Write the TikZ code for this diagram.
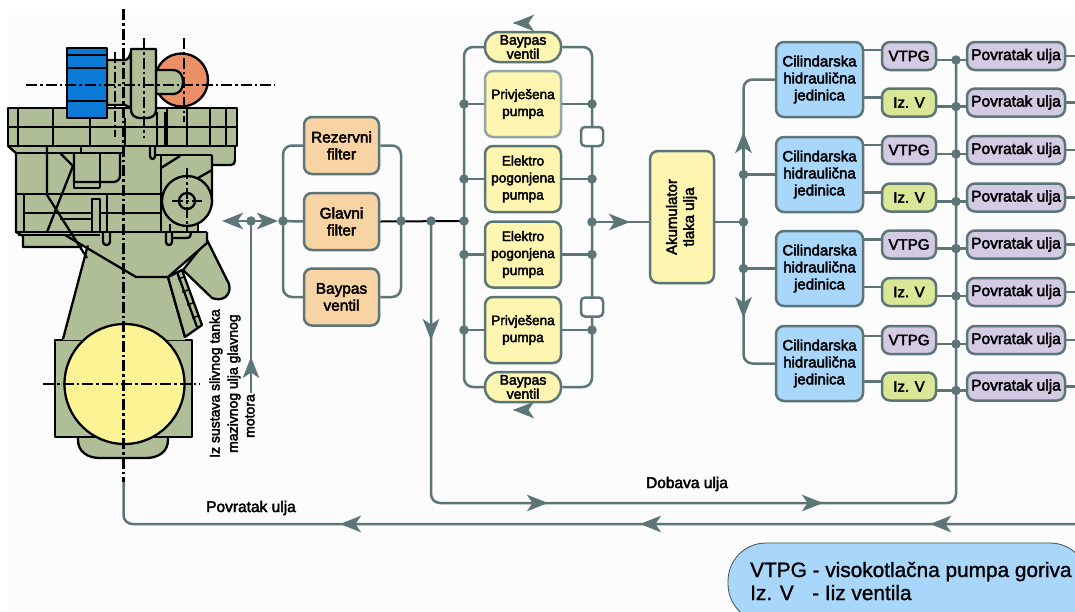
\documentclass[tikz,border=0pt]{standalone}
\usepackage{fontspec}
\setmainfont{Liberation Sans}
\newfontfamily\boldish[FakeBold=2.8]{Liberation Sans}
\newfontfamily\semibold[FakeBold=1.2]{Liberation Sans}
\usetikzlibrary{arrows.meta}
\definecolor{pipec}{HTML}{5C7678}
\definecolor{pipelight}{HTML}{93A8A4}
\definecolor{filterc}{HTML}{F8D3A3}
\definecolor{pumpc}{HTML}{FDF5B0}
\definecolor{crankc}{HTML}{FCF395}
\definecolor{cilc}{HTML}{A9D6FB}
\definecolor{purplec}{HTML}{D3CAE4}
\definecolor{greenc}{HTML}{D9E797}
\definecolor{enginec}{HTML}{AFBE96}
\definecolor{orangec}{HTML}{EB8F66}
\definecolor{bluec}{HTML}{0A7AD6}
\tikzset{
  basebox/.style={draw=pipec,line width=2.5pt,rounded corners=8pt,inner sep=0pt,align=center,
    font=\boldish\fontsize{15}{17}\selectfont,text=black},
  filterbox/.style={basebox,fill=filterc,minimum width=75pt,minimum height=57pt,font=\boldish\fontsize{15.4}{17}\selectfont},
  pumpbox/.style={basebox,fill=pumpc,minimum width=76pt,minimum height=66pt,font=\boldish\fontsize{13.6}{17}\selectfont},
  pillbox/.style={basebox,fill=pumpc,minimum width=76pt,minimum height=30pt,rounded corners=14pt,
    font=\boldish\fontsize{14}{11.5}\selectfont},
  accubox/.style={basebox,fill=pumpc,minimum width=64pt,minimum height=132pt},
  cilbox/.style={basebox,fill=cilc,minimum width=87pt,minimum height=75pt},
  vtpgbox/.style={basebox,fill=purplec,minimum width=54pt,minimum height=28pt},
  izvbox/.style={basebox,fill=greenc,minimum width=54pt,minimum height=28pt},
  povbox/.style={basebox,fill=purplec,minimum width=98pt,minimum height=28pt,font=\boldish\fontsize{15.5}{17}\selectfont},
  valvebox/.style={draw=pipec,line width=2.5pt,fill=white,rounded corners=4pt,minimum width=22pt,minimum height=19pt,inner sep=0pt},
  dotnode/.style={circle,fill=pipec,minimum size=9.5pt,inner sep=0pt},
  pipe/.style={draw=pipec,line width=2.5pt},
  pipebend/.style={pipe,rounded corners=9pt},
  flowline/.style={pipe,-{Stealth[length=21pt,width=16.5pt,inset=5.5pt]}},
  plainlabel/.style={font=\boldish\fontsize{15.5}{17}\selectfont,inner sep=0pt,align=center},
  sidelabel/.style={font=\boldish\fontsize{14}{16}\selectfont,inner sep=0pt,rotate=90,anchor=west},
  legendtext/.style={anchor=base west,inner sep=0pt,font=\semibold\fontsize{20.8}{24}\selectfont},
  eng/.style={draw=black,line width=2.3pt,line join=round},
  engf/.style={eng,fill=enginec},
  centreline/.style={draw=black,line width=2.3pt,dash pattern=on 11pt off 3pt on 2.5pt off 3pt},
}
\begin{document}
\begin{tikzpicture}[x=1pt,y=-1pt]
\useasboundingbox (0,0) rectangle (1075,611);
\fill[white] (0,0) rectangle (1075,611);
\fill[black!1] (8,9) rectangle (1075,611);

% ---- engine (a drawing, not a graph) ----
% lower parts
\path[engf] (78,420) -- (78,440) .. controls (78,452) and (88,458) .. (100,458) -- (146,458) .. controls (158,458) and (168,452) .. (168,440) -- (168,420) -- cycle;
\path[engf] (55,340) rectangle (192,437);
\path[engf] (101,330) -- (101,322) .. controls (101,318) and (103,316) .. (106,316) -- (144,316) .. controls (147,316) and (149,318) .. (149,322) -- (149,330) -- cycle;
\fill[enginec] (63,340) -- (90,237) -- (168,270) -- (185,340) -- cycle;
\draw[eng] (90,237) -- (63,339) (168,277) -- (185,337);
% right flap
\path[engf] (207,240) -- (229,284) .. controls (232,296) and (222,302) .. (212,298) -- (183,270) -- cycle;
\path[engf] (168,277) -- (182,270) -- (202,325) -- (185,337) -- cycle;
\draw[eng] (177,272) -- (197,327);
\draw[eng,line width=1.5pt] (178,279) -- (184,277) (182,292) -- (188,290) (187,305) -- (193,303) (192,318) -- (198,316);
% middle block
\fill[enginec] (8,146) -- (16,153) -- (16,232) -- (23,236) -- (23,247) -- (82,247) -- (88,245) -- (136,277) -- (168,277) -- (207,243) -- (207,232) -- (198,232) -- (198,226) -- (212,205) -- (212,165) -- (231,165) .. controls (234,165) and (235,163) .. (235,160) -- (235,146) -- cycle;
\draw[eng] (8,146) -- (16,153) -- (16,232) -- (23,236) -- (23,247) -- (82,247);
\draw[eng] (65,235) -- (136,277) -- (168,277) -- (207,243) -- (207,232);
\draw[eng] (16,232) -- (207,232) (18,235) -- (100,235);
\draw[eng] (47,146) -- (47,195) -- (87,258);
\draw[eng] (81,146) -- (81,153) (16,153) -- (124,153);
\draw[eng] (60,153) -- (73,166) -- (47,232);
\draw[eng] (74,153) -- (74,182) (74,182) -- (113,182) .. controls (118,182) and (120,179) .. (120,175) -- (120,153);
\draw[eng] (74,182) -- (74,188) -- (100,188) (100,153) -- (100,188);
\draw[eng] (16,194) -- (161,194) (24,194) -- (24,232);
\draw[eng] (24,213) -- (92,213) (60,219) -- (92,219) (100,213) -- (161,213);
\draw[eng] (92,232) -- (92,199) -- (100,199) -- (100,232) (107,194) -- (107,232);
\draw[eng] (103,233) -- (103,242) .. controls (103,246) and (110,246) .. (110,242) -- (110,233);
\draw[eng] (155,155) -- (212,155) (235,147) -- (235,160) (161,155) -- (161,232);
\draw[eng] (150,147) -- (150,156) .. controls (150,160) and (155,160) .. (155,156) -- (155,147);
\draw[eng] (161,168) -- (180,156) (198,178) -- (212,170) (212,155) -- (212,205);
\draw[eng] (212,165) -- (231,165) .. controls (234,165) and (235,163) .. (235,160);
\draw[eng] (170,224) -- (170,232) (198,224) -- (198,232);
\draw[eng] (166,233) -- (166,242) .. controls (166,246) and (172,246) .. (172,242) -- (172,233);
\draw[eng] (172,238) -- (186,238) .. controls (190,238) and (191,236) .. (191,233);
\path[engf] (187,201) circle[radius=25pt];
\draw[eng] (187,201) circle[radius=8pt];
% top flange row
\path[engf] (8,108) rectangle (237,146);
\draw[eng] (8,127) -- (237,127);
\draw[eng] (18,108) -- (18,146) (53,108) -- (53,146) (90,118) -- (90,146) (125,118) -- (125,146)
  (157,112) -- (157,146) (165,112) -- (165,146) (167,108) -- (167,146) (187,108) -- (187,146) (210,108) -- (210,146) (226,108) -- (226,146);
% turbo group
\path[engf] (107,60) -- (125,60) .. controls (128,60) and (130,56) .. (131,52) -- (131,108) .. controls (128,107) and (126,105) .. (125,105) -- (107,105) -- cycle;
\path[eng,fill=orangec] (181.5,80) circle[radius=26.5pt];
\path[engf] (156,70) -- (172,70) .. controls (180,70) and (183,75) .. (183,82) .. controls (183,89) and (180,94) .. (172,94) -- (156,94) -- cycle;
\path[engf] (131,49) -- (156,49) -- (156,110) .. controls (156,115) and (152,118) .. (147,118) -- (140,118) .. controls (135,118) and (131,115) .. (131,110) -- cycle;
\path[eng,fill=bluec] (67,48) rectangle (107,118);
\draw[eng] (67,55) -- (107,55) (67,68) -- (107,68) (67,101) -- (107,101);
% crank circle
\path[eng,fill=crankc] (124.5,384) circle[radius=60pt];
% axes
\draw[centreline] (123.5,9) -- (123.5,482);
\draw[centreline] (26,85) -- (275,85);
\draw[centreline] (43,384) -- (200,384);
\draw[centreline] (115,52) -- (115,137);
\draw[centreline] (144,38) -- (144,138);
\draw[centreline] (184,38) -- (184,122);
\draw[centreline,line width=1.5pt] (187,168) -- (187,233);
\draw[centreline,line width=1.5pt] (172,201) -- (202,201);

% ---- boxes ----
\node[filterbox] (rf) at (341.5,145.5) {Rezervni\\filter};
\node[filterbox] (gf) at (341.5,221.5) {Glavni\\filter};
\node[filterbox] (bf) at (341.5,297) {Baypas\\ventil};
\node[pillbox] (bt) at (523,47) {Baypas\\ventil};
\node[pumpbox,draw=pipelight] (p1) at (523,104) {Privješena\\pumpa};
\node[pumpbox] (p2) at (523,179) {Elektro\\pogonjena\\pumpa};
\node[pumpbox] (p3) at (523,254.5) {Elektro\\pogonjena\\pumpa};
\node[pumpbox] (p4) at (523,330) {Privješena\\pumpa};
\node[pillbox] (bb) at (523,387) {Baypas\\ventil};
\node[accubox] (ak) at (682,217) {\rotatebox{90}{\begin{tabular}{@{}c@{}}Akumulator\\tlaka ulja\end{tabular}}};
\foreach \n/\y in {1/79.5,2/174.5,3/268.5,4/363.5}{
  \node[cilbox] (c\n) at (819.5,\y) {Cilindarska\\hidraulična\\jedinica};
}
\foreach \n/\y/\z in {1/56/102.5,2/150/197.5,3/244.5/292,4/340/386.5}{
  \node[vtpgbox] (v\n) at (909,\y) {VTPG};
  \node[izvbox] (z\n) at (909,\z) {Iz. V};
  \node[povbox] (rv\n) at (1016,\y) {Povratak ulja};
  \node[povbox] (rz\n) at (1016,\z) {Povratak ulja};
}
% ---- junctions ----
\coordinate (lb) at (464,221);
\coordinate (rb) at (592,222);
\coordinate (wb) at (283,221);
\coordinate (eb) at (401,221);
\coordinate (drop) at (431,221);
\coordinate (tee) at (251,221);
\coordinate (ab) at (743.5,222);
\coordinate (hb) at (956,221);
\coordinate (hbtop) at (956,60);
\coordinate (motora) at (251,393);
\coordinate (motoratip) at (251,357);
\coordinate (tipL) at (222,221);
\coordinate (tipR) at (278,221);
\coordinate (tipRb) at (630,222);
\coordinate (tipU) at (743.5,132);
\coordinate (tipD) at (743.5,318);
\coordinate (tipDrop) at (431,340);
\coordinate (dob) at (431,503);
\coordinate (dobstart) at (470,503);
\coordinate (dobend) at (956,503);
\coordinate (dob1) at (548,503);
\coordinate (dob2) at (823,503);
\coordinate (ret0) at (123.5,482);
\coordinate (ret) at (123.5,524);
\coordinate (retend) at (1075,524);
\coordinate (ret1) at (930,524);
\coordinate (ret2) at (640,524);
\coordinate (ret3) at (340,524);
\coordinate (edgeR) at (1075,0);

% ---- connectors ----
\draw[pipebend] (rf.west) -- (rf.west -| wb) -- (bf.west -| wb) -- (bf.west);
\draw[pipebend] (rf.east) -- (rf.east -| eb) -- (bf.east -| eb) -- (bf.east);
\draw[pipe] (gf.west) -- (wb);
\draw[pipe] (motora) -- (tee);
\draw[flowline] (tee) -- (tipL);
\draw[flowline] (tee) -- (tipR);
\draw[flowline] (motora) -- (motoratip);
\draw[pipebend] (bt.west) -- (bt.west -| lb) -- (bb.west -| lb) -- (bb.west);
\draw[pipebend] (bt.east) -- (bt.east -| rb) -- (bb.east -| rb) -- (bb.east);
\draw[draw=black,line width=2pt] (gf.east) -- (lb);
\foreach \n in {p1,p2,p3,p4}{
  \draw[pipe] (\n.west) -- (\n.west -| lb);
  \draw[pipe] (\n.east) -- (\n.east -| rb);
}
\draw[pipe] (rb) -- (ak.west |- rb);
\draw[flowline] (rb) -- (tipRb);
\draw[pipe] (ak.east |- ab) -- (ab);
\draw[pipebend] (c1.west) -- (c1.west -| ab) -- (c4.west -| ab) -- (c4.west);
\draw[pipe] (c2.west) -- (c2.west -| ab);
\draw[pipe] (c3.west) -- (c3.west -| ab);
\draw[flowline] (ab) -- (tipU);
\draw[flowline] (ab) -- (tipD);
\draw[flowline] (drop) -- (tipDrop);
\draw[pipebend] (drop) -- (dob) -- (dobend) -- (hbtop);
\draw[flowline] (dobstart) -- (dob1);
\draw[flowline] (dobstart) -- (dob2);
\draw[pipebend] (ret0) -- (ret) -- (retend);
\draw[flowline] (retend) -- (ret1);
\draw[flowline] (retend) -- (ret2);
\draw[flowline] (retend) -- (ret3);
\foreach \n/\oy/\ry in {1/6/-4,2/5/-4,3/5/-4,4/4/-4}{
  \draw[pipe] ([yshift=\oy pt]v\n.west) -- ([yshift=\oy pt]v\n.west -| c\n.east);
  \coordinate (jv\n) at ([yshift=\ry pt]v\n.east -| hb);
  \draw[pipe] ([yshift=\ry pt]v\n.east) -- (jv\n) -- ([yshift=\ry pt]rv\n.west);
  \draw[pipe] (rv\n.east) -- (rv\n.east -| edgeR);
  \node[dotnode] at (jv\n) {};
  \draw[pipe] ([yshift=5pt]z\n.west) -- ([yshift=5pt]z\n.west -| c\n.east);
  \coordinate (jz\n) at ([yshift=-4pt]z\n.east -| hb);
  \draw[pipe] ([yshift=-4pt]z\n.east) -- (jz\n) -- ([yshift=-4pt]rz\n.west);
  \draw[pipe] (rz\n.east) -- (rz\n.east -| edgeR);
  \node[dotnode] at (jz\n) {};
}
% ---- small valves and dots ----
\node[valvebox] (s1) at (592,136.5) {};
\node[valvebox] (s2) at (592,307) {};
\foreach \c in {wb,eb,drop,tee,lb,rb,ab}{ \node[dotnode] at (\c) {}; }
\node[dotnode] at (c2.west -| ab) {};
\node[dotnode] at (c3.west -| ab) {};
\foreach \n in {p1,p2,p3,p4}{
  \node[dotnode] at (\n.west -| lb) {};
  \node[dotnode] at (\n.east -| rb) {};
}
% free arrowheads above and below the bypass valves
\coordinate (bta) at (534,23);
\coordinate (btb) at (513,23);
\coordinate (bba) at (534,410);
\coordinate (bbb) at (513,410);
\draw[flowline,shorten <=20pt] (bta) -- (btb);
\draw[flowline,shorten <=20pt] (bba) -- (bbb);
% ---- labels ----
\node[plainlabel] (lblret) at (251,508) {Povratak ulja};
\node[plainlabel] (lbldob) at (687,484) {Dobava ulja};
\node[sidelabel] (lbl1) at (216,458) {Iz sustava slivnog tanka};
\node[sidelabel] (lbl2) at (234,453) {mazivnog ulja glavnog};
\node[sidelabel] (lbl3) at (250,438) {motora};
% legend
\begin{scope}
\clip (0,0) rectangle (1075,611);
\path[draw=pipec!70!black,line width=0.8pt,fill=cilc,rounded corners=38pt] (728,543) rectangle (1088,622);
\end{scope}
\node[legendtext] (lg1) at (750,577) {VTPG - visokotlačna pumpa goriva};
\node[legendtext] (lg2) at (750,600) {Iz. V};
\node[legendtext] (lg3) at (812,600) {- Iiz ventila};
\end{tikzpicture}
\end{document}
